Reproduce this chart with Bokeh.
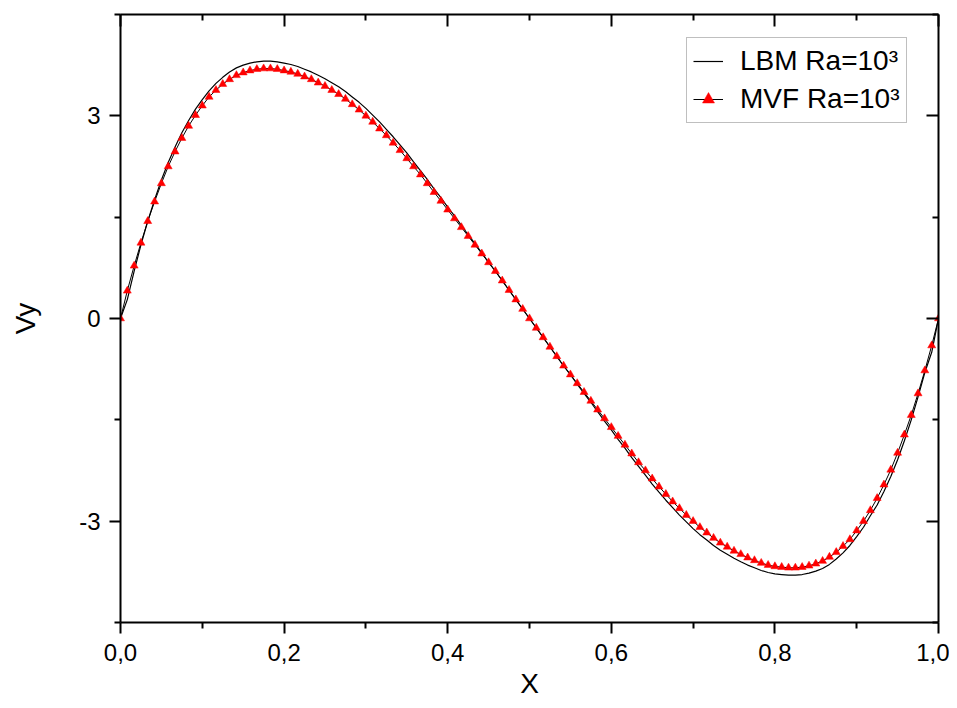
from bokeh.plotting import figure
from bokeh.models import (Range1d, LinearAxis, FixedTicker, CustomJSTickFormatter,
                          Legend, LegendItem, ColumnDataSource)
from bokeh.embed import file_html
from bokeh.resources import INLINE

# ---------------- data ----------------
x_nodes = [
    0.0, 0.0083, 0.0167, 0.025, 0.0333, 0.0417, 0.05, 0.0583, 0.0667, 0.075,
    0.0833, 0.0917, 0.1, 0.1083, 0.1167, 0.125, 0.1333, 0.1417, 0.15, 0.1583,
    0.1667, 0.175, 0.1833, 0.1917, 0.2, 0.2083, 0.2167, 0.225, 0.2333, 0.2417,
    0.25, 0.2583, 0.2667, 0.275, 0.2833, 0.2917, 0.3, 0.3083, 0.3167, 0.325,
    0.3333, 0.3417, 0.35, 0.3583, 0.3667, 0.375, 0.3833, 0.3917, 0.4, 0.4083,
    0.4167, 0.425, 0.4333, 0.4417, 0.45, 0.4583, 0.4667, 0.475, 0.4833, 0.4917,
    0.5,
    0.5083, 0.5167, 0.525, 0.5333, 0.5417, 0.55, 0.5583, 0.5667, 0.575, 0.5833,
    0.5917, 0.6, 0.6083, 0.6167, 0.625, 0.6333, 0.6417, 0.65, 0.6583, 0.6667,
    0.675, 0.6833, 0.6917, 0.7, 0.7083, 0.7167, 0.725, 0.7333, 0.7417, 0.75,
    0.7583, 0.7667, 0.775, 0.7833, 0.7917, 0.8, 0.8083, 0.8167, 0.825, 0.8333,
    0.8417, 0.85, 0.8583, 0.8667, 0.875, 0.8833, 0.8917, 0.9, 0.9083, 0.9167,
    0.925, 0.9333, 0.9417, 0.95, 0.9583, 0.9667, 0.975, 0.9833, 0.9917, 1.0,
]

vy_lbm = [
    0.00, 0.28, 0.70, 1.09, 1.44, 1.76, 2.05, 2.31, 2.54, 2.75,
    2.93, 3.10, 3.24, 3.37, 3.48, 3.57, 3.65, 3.71, 3.75, 3.78,
    3.80, 3.81, 3.81, 3.80, 3.78, 3.76, 3.73, 3.69, 3.65, 3.60,
    3.55, 3.49, 3.43, 3.36, 3.28, 3.20, 3.11, 3.01, 2.91, 2.80,
    2.69, 2.57, 2.45, 2.32, 2.19, 2.06, 1.92, 1.79, 1.65, 1.52,
    1.38, 1.24, 1.11, 0.97, 0.83, 0.70, 0.56, 0.42, 0.28, 0.14,
    0.00,
    -0.14, -0.28, -0.42, -0.56, -0.70, -0.83, -0.97, -1.11, -1.24, -1.38,
    -1.52, -1.65, -1.79, -1.92, -2.06, -2.19, -2.32, -2.45, -2.57, -2.69,
    -2.80, -2.91, -3.01, -3.11, -3.20, -3.28, -3.36, -3.43, -3.49, -3.55,
    -3.60, -3.65, -3.69, -3.73, -3.76, -3.78, -3.79, -3.80, -3.80, -3.79,
    -3.77, -3.74, -3.70, -3.64, -3.56, -3.47, -3.36, -3.23, -3.09, -2.92,
    -2.76, -2.56, -2.34, -2.09, -1.81, -1.50, -1.16, -0.80, -0.50, 0.00,
]

vy_mvf = [
    0.00, 0.41, 0.78, 1.12, 1.44, 1.73, 2.00, 2.25, 2.47, 2.67,
    2.85, 3.01, 3.15, 3.28, 3.38, 3.47, 3.54, 3.60, 3.64, 3.67,
    3.69, 3.70, 3.70, 3.69, 3.67, 3.65, 3.62, 3.58, 3.54, 3.49,
    3.44, 3.38, 3.32, 3.25, 3.17, 3.09, 3.00, 2.91, 2.81, 2.71,
    2.60, 2.49, 2.37, 2.25, 2.13, 2.00, 1.87, 1.74, 1.61, 1.48,
    1.35, 1.22, 1.09, 0.96, 0.83, 0.70, 0.56, 0.42, 0.28, 0.14,
    0.00,
    -0.14, -0.28, -0.42, -0.56, -0.70, -0.83, -0.96, -1.09, -1.22, -1.35,
    -1.48, -1.61, -1.74, -1.87, -2.00, -2.13, -2.25, -2.37, -2.49, -2.60,
    -2.71, -2.81, -2.91, -3.00, -3.09, -3.17, -3.25, -3.32, -3.38, -3.44,
    -3.49, -3.54, -3.58, -3.62, -3.65, -3.67, -3.68, -3.69, -3.69, -3.68,
    -3.66, -3.63, -3.59, -3.53, -3.46, -3.37, -3.27, -3.14, -3.00, -2.84,
    -2.66, -2.46, -2.24, -1.99, -1.72, -1.43, -1.11, -0.77, -0.40, 0.00,
]

x_major = [0.0, 0.2, 0.4, 0.6, 0.8, 1.0]
x_minor = [0.1, 0.3, 0.5, 0.7, 0.9]
y_major = [-3, 0, 3]
y_minor = [-4.5, -1.5, 1.5, 4.5]

label_lbm = "LBM Ra=10\u00b3"
label_mvf = "MVF Ra=10\u00b3"
x_title = "X"
y_title = "Vy"

# ---------------- figure ----------------
FONT = "Liberation Sans"

p = figure(width=949, height=708,
           x_range=Range1d(0, 1), y_range=Range1d(-4.5, 4.5),
           output_backend="svg", toolbar_location=None,
           min_border_left=120, min_border_right=11,
           min_border_top=14, min_border_bottom=86,
           x_axis_label=x_title, y_axis_label=y_title)
p.outline_line_color = None
p.xgrid.visible = False
p.ygrid.visible = False
p.background_fill_color = "white"
p.border_fill_color = "white"

src = ColumnDataSource(dict(x=x_nodes, lbm=vy_lbm, mvf=vy_mvf))

lbm_r = p.line("x", "lbm", source=src, line_color="black", line_width=1.2)
mvf_line = p.line("x", "mvf", source=src, line_color="black", line_width=1)
mvf_pts = p.scatter("x", "mvf", source=src, marker="triangle", size=8,
                    fill_color="#ff0000", line_color="#ff0000", line_width=0.5)

xt = FixedTicker(ticks=x_major, minor_ticks=x_minor)
yt = FixedTicker(ticks=y_major, minor_ticks=y_minor)
xfmt = CustomJSTickFormatter(code="return tick.toFixed(1).replace('.', ',');")
yfmt = CustomJSTickFormatter(code="return tick.toFixed(0);")
blank = CustomJSTickFormatter(code="return '';")


def style(ax):
    ax.axis_line_width = 2
    ax.axis_line_color = "black"
    ax.major_tick_line_width = 2
    ax.minor_tick_line_width = 2
    ax.major_tick_line_color = "black"
    ax.minor_tick_line_color = "black"
    ax.major_label_text_font = FONT
    ax.major_label_text_font_size = "24px"
    ax.major_label_text_color = "black"
    ax.axis_label_text_font = FONT
    ax.axis_label_text_font_size = "28px"
    ax.axis_label_text_font_style = "normal"
    ax.axis_label_text_color = "black"


xa = p.xaxis[0]
xa.ticker = xt
xa.formatter = xfmt
style(xa)
xa.major_tick_out = 11
xa.major_tick_in = 0
xa.minor_tick_out = 6
xa.minor_tick_in = 0
xa.major_label_standoff = 10
xa.axis_label_standoff = 4

ya = p.yaxis[0]
ya.ticker = yt
ya.formatter = yfmt
style(ya)
ya.major_tick_out = 11
ya.major_tick_in = 0
ya.minor_tick_out = 6
ya.minor_tick_in = 0
ya.major_label_standoff = 9
ya.axis_label_standoff = 35

top = LinearAxis(ticker=xt, formatter=blank)
style(top)
top.major_label_text_font_size = "0px"
top.major_label_standoff = 0
top.major_tick_in = 12
top.major_tick_out = 0
top.minor_tick_in = 6
top.minor_tick_out = 0
p.add_layout(top, "above")

right = LinearAxis(ticker=yt, formatter=blank)
style(right)
right.major_label_text_font_size = "0px"
right.major_label_standoff = 0
right.major_tick_in = 12
right.major_tick_out = 0
right.minor_tick_in = 6
right.minor_tick_out = 0
p.add_layout(right, "right")

legend = Legend(items=[LegendItem(label=label_lbm, renderers=[lbm_r]),
                       LegendItem(label=label_mvf, renderers=[mvf_line, mvf_pts])],
                location=(566, 499))
legend.border_line_color = "#7f7f7f"
legend.border_line_width = 1
legend.background_fill_color = "white"
legend.background_fill_alpha = 1
legend.label_text_font = FONT
legend.label_text_font_size = "28px"
legend.label_text_color = "black"
legend.glyph_width = 30
legend.glyph_height = 34
legend.label_height = 34
legend.label_standoff = 17
legend.padding = 6
legend.spacing = 4
legend.margin = 0
p.add_layout(legend)

open("out.html", "w").write(file_html(p, INLINE))
